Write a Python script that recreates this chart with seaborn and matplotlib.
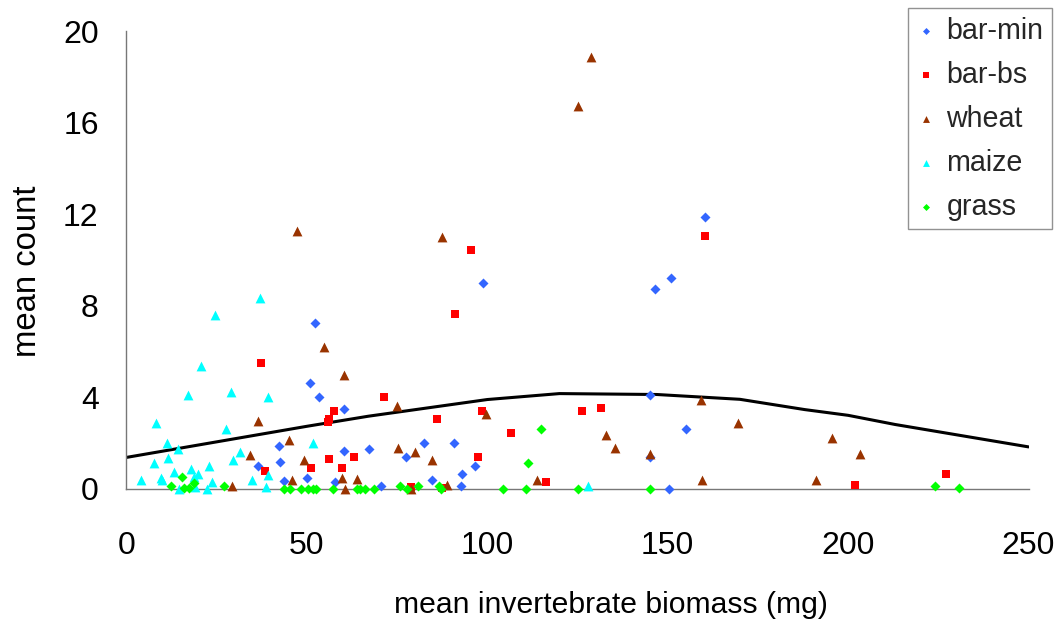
import matplotlib
matplotlib.use("Agg")
import matplotlib.pyplot as plt
import seaborn as sns
import pandas as pd

# Mean invertebrate biomass (mg) vs. mean count, per habitat
bar_min_x = [52.2, 51.0, 53.3, 60.3, 67.1, 60.3, 42.3, 42.6, 36.4, 50.1, 43.8, 57.9,
             98.8, 82.4, 90.9, 77.4, 96.5, 93.1, 84.8, 92.6, 70.5,
             160.3, 150.8, 146.5, 145.2, 155.1, 145.2, 150.3]
bar_min_y = [7.25, 4.62, 4.0, 3.5, 1.76, 1.64, 1.87, 1.16, 1.02, 0.49, 0.35, 0.29,
             8.99, 2.02, 2.02, 1.38, 1.02, 0.64, 0.39, 0.15, 0.15,
             11.9, 9.22, 8.73, 4.13, 2.64, 1.41, 0.0]

bar_bs_x = [37.3, 57.4, 56.1, 55.8, 56.2, 63.2, 51.1, 59.8, 38.5, 95.5, 91.1, 71.5,
            98.6, 126.2, 131.4, 86.0, 106.5, 97.5, 116.3, 78.8, 87.5, 160.4, 201.9, 227.2]
bar_bs_y = [5.52, 3.4, 3.04, 2.91, 1.29, 1.41, 0.93, 0.93, 0.8, 10.44, 7.64, 4.04,
            3.41, 3.41, 3.53, 3.05, 2.43, 1.41, 0.29, 0.07, 0.05, 11.07, 0.17, 0.67]

wheat_x = [125.2, 128.7, 47.2, 87.5, 54.8, 60.3, 36.4, 45.0, 34.3, 49.3, 59.6, 45.8,
           63.9, 29.2, 60.7, 74.9, 99.6, 75.3, 80.0, 84.6, 113.8, 78.8, 88.7, 132.8,
           135.5, 159.1, 169.4, 145.2, 159.5, 191.0, 195.4, 203.3]
wheat_y = [16.73, 18.87, 11.26, 11.02, 6.22, 4.97, 2.98, 2.12, 1.48, 1.25, 0.49, 0.39,
           0.42, 0.13, 0.0, 3.62, 3.27, 1.77, 1.63, 1.26, 0.39, 0.0, 0.17, 2.38,
           1.77, 3.88, 2.89, 1.52, 0.39, 0.39, 2.25, 1.51]

maize_x = [37.1, 24.6, 20.7, 17.1, 28.9, 39.2, 8.1, 27.7, 11.2, 14.3, 31.6, 51.7,
           11.6, 7.6, 29.6, 23.0, 13.2, 17.9, 19.9, 18.6, 9.7, 4.0, 9.9, 23.8,
           34.8, 39.2, 38.7, 22.2, 14.7, 18.9, 127.8]
maize_y = [8.34, 7.6, 5.36, 4.13, 4.24, 4.0, 2.89, 2.61, 2.02, 1.74, 1.63, 2.02,
           1.36, 1.15, 1.25, 1.0, 0.75, 0.87, 0.64, 0.54, 0.49, 0.39, 0.39, 0.29,
           0.39, 0.61, 0.1, 0.0, 0.0, 0.1, 0.13]

grass_x = [15.5, 12.3, 15.9, 17.2, 18.7, 26.9, 43.7, 45.3, 48.5, 50.3, 51.8, 52.4,
           57.2, 63.9, 64.8, 66.2, 68.5, 75.8, 77.8, 80.7, 86.6, 87.3, 104.3, 110.7,
           111.4, 114.9, 125.2, 145.2, 224.0, 230.8]
grass_y = [0.51, 0.13, 0.03, 0.03, 0.25, 0.13, 0.0, 0.0, 0.0, 0.0, 0.0, 0.0,
           0.0, 0.0, 0.0, 0.0, 0.0, 0.15, 0.0, 0.15, 0.15, 0.0, 0.0, 0.0,
           1.15, 2.63, 0.0, 0.0, 0.13, 0.03]

# Fitted trend
fit_x = [0, 50, 67, 100, 120, 147, 170, 188, 200, 213, 250]
fit_y = [1.38, 2.74, 3.18, 3.91, 4.17, 4.13, 3.92, 3.47, 3.22, 2.82, 1.84]

series = ["bar-min", "bar-bs", "wheat", "maize", "grass"]
xs = [bar_min_x, bar_bs_x, wheat_x, maize_x, grass_x]
ys = [bar_min_y, bar_bs_y, wheat_y, maize_y, grass_y]
colors = ["#3366FF", "#FF0000", "#993300", "#00FFFF", "#00FF00"]
markers = ["D", "s", "^", "^", "D"]
sizes = [26, 36, 50, 50, 26]

sns.set_style("white")
plt.rcParams["font.family"] = ["Liberation Sans", "DejaVu Sans"]

fig = plt.figure(figsize=(10.6, 6.21), dpi=100)
ax = fig.add_axes([0.1193, 0.2126, 0.8510, 0.7367])

for name, x, y, c, m, s in zip(series, xs, ys, colors, markers, sizes):
    df = pd.DataFrame({"x": x, "y": y})
    sns.scatterplot(data=df, x="x", y="y", ax=ax, color=c, marker=m, s=s,
                    linewidth=0, label=name, clip_on=False, zorder=3)

sns.lineplot(x=fit_x, y=fit_y, ax=ax, color="black", linewidth=2.2,
             sort=False, estimator=None, zorder=2, legend=False)

ax.set_xlim(0, 250)
ax.set_ylim(0, 20)
ax.set_xticks([0, 50, 100, 150, 200, 250])
ax.set_yticks([0, 4, 8, 12, 16, 20])

for side in ["top", "right"]:
    ax.spines[side].set_visible(False)
for side in ["left", "bottom"]:
    ax.spines[side].set_color("#777777")
    ax.spines[side].set_linewidth(1.0)

ax.tick_params(axis="both", direction="out", length=7, width=1.0,
               color="#777777", labelsize=23, labelcolor="black")
ax.tick_params(axis="x", pad=23)
ax.tick_params(axis="y", pad=13)

ax.set_xlabel("mean invertebrate biomass (mg)", fontsize=21.7, color="black")
ax.set_ylabel("mean count", fontsize=23.7, color="black")
ax.xaxis.set_label_coords(0.537, -0.222)
ax.yaxis.set_label_coords(-0.092, 0.477)

leg = ax.legend(loc="upper right", bbox_to_anchor=(0.9925, 0.987),
                bbox_transform=fig.transFigure, fontsize=20.6, frameon=True,
                fancybox=False, borderpad=0.3, labelspacing=0.56,
                handlelength=0.7, handletextpad=0.35, markerscale=0.7,
                borderaxespad=0)
leg.get_frame().set_edgecolor("#777777")
leg.get_frame().set_linewidth(1.0)

fig.savefig("out.png", dpi=100)
